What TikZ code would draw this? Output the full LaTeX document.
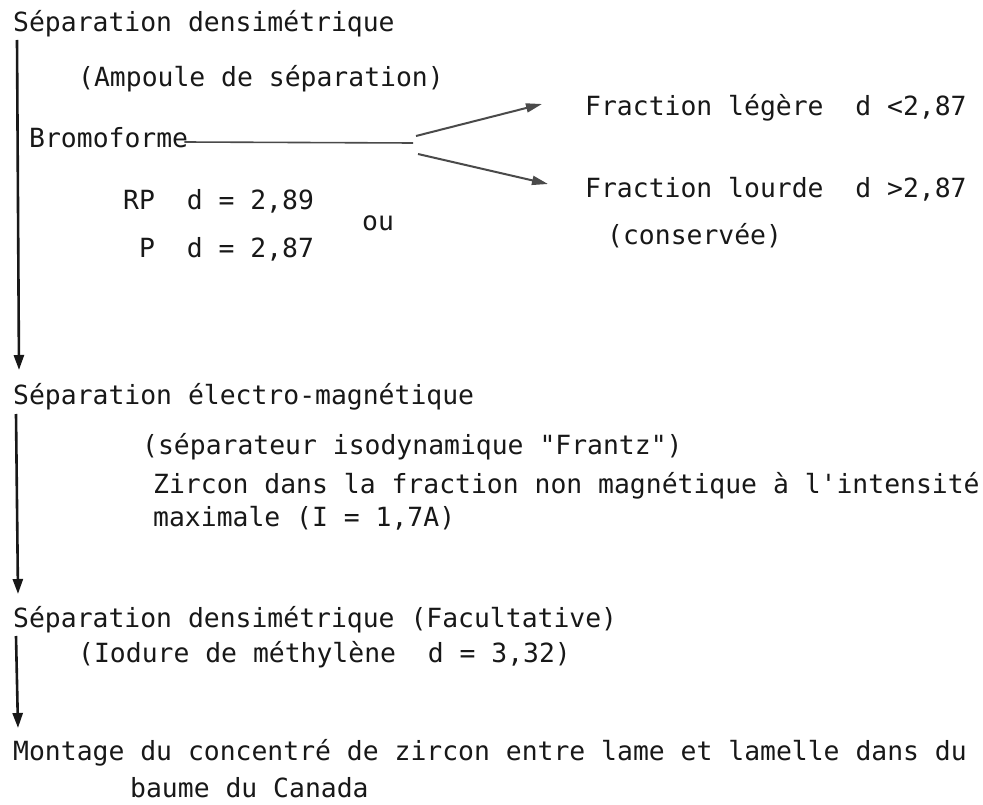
\documentclass[tikz,border=0pt]{standalone}
\usepackage{fontspec}
\setmonofont{DejaVu Sans Mono}
\usetikzlibrary{arrows.meta}
\definecolor{ink}{HTML}{181818}
\definecolor{branchgray}{HTML}{4A4A4A}
\begin{document}
\begin{tikzpicture}[x=1pt,y=-1pt,
  txt/.style={anchor=base west,inner sep=0pt,font=\ttfamily\fontsize{26.4pt}{30pt}\selectfont,text=ink},
  flow/.style={line width=2.6pt,draw=ink,-{Triangle[length=15pt,width=10pt]}},
  branch/.style={line width=2pt,draw=branchgray,-{Triangle[length=16pt,width=9pt]}},
  plain/.style={line width=1.6pt,draw=branchgray}]
\useasboundingbox[fill=white] (0,0) rectangle (983,805);

% texts
\node[txt] (s1)   at (13,32)  {Séparation densimétrique};
\node[txt] (amp)  at (78,87)  {(Ampoule de séparation)};
\node[txt] (bromo) at (29,148) {Bromoforme};
\node[txt] (rp)   at (123,210) {RP\ \ d = 2,89};
\node[txt] (p)    at (139,258) {P\ \ d = 2,87};
\node[txt] (ou)   at (362,231) {ou};
\node[txt] (fl)   at (585,116) {Fraction légère\ \ d <2,87};
\node[txt] (fh)   at (585,198) {Fraction lourde\ \ d >2,87};
\node[txt] (cons) at (607,245) {(conservée)};

\node[txt] (s2)   at (13,404) {Séparation électro-magnétique};
\node[txt] (sep)  at (142,454) {(séparateur isodynamique "Frantz")};
\node[txt] (zir)  at (153,493) {Zircon dans la fraction non magnétique à l'intensité};
\node[txt] (max)  at (153,526) {maximale (I = 1,7A)};

\node[txt] (s3)   at (13,627) {Séparation densimétrique (Facultative)};
\node[txt] (iod)  at (78,662) {(Iodure de méthylène\ \ d = 3,32)};

\node[txt] (mont) at (13,760) {Montage du concentré de zircon entre lame et lamelle dans du};
\node[txt] (baume) at (130,797) {baume du Canada};

% connector points
\coordinate (a1s) at (17,40);
\coordinate (a1e) at (19,370);
\coordinate (a2s) at (16,414);
\coordinate (a2e) at (18,594);
\coordinate (a3s) at (16,636);
\coordinate (a3e) at (18,728);
\coordinate (split) at (413,143);
\coordinate (up0) at (416,136);
\coordinate (upT) at (542,104);
\coordinate (dn0) at (418,154);
\coordinate (dnT) at (548,184);

\draw[flow] (a1s) -- (a1e);
\draw[flow] (a2s) -- (a2e);
\draw[flow] (a3s) -- (a3e);
\draw[plain] (bromo.base east) ++(-4,-6) -- (split);
\draw[branch] (up0) -- (upT);
\draw[branch] (dn0) -- (dnT);
\end{tikzpicture}
\end{document}
